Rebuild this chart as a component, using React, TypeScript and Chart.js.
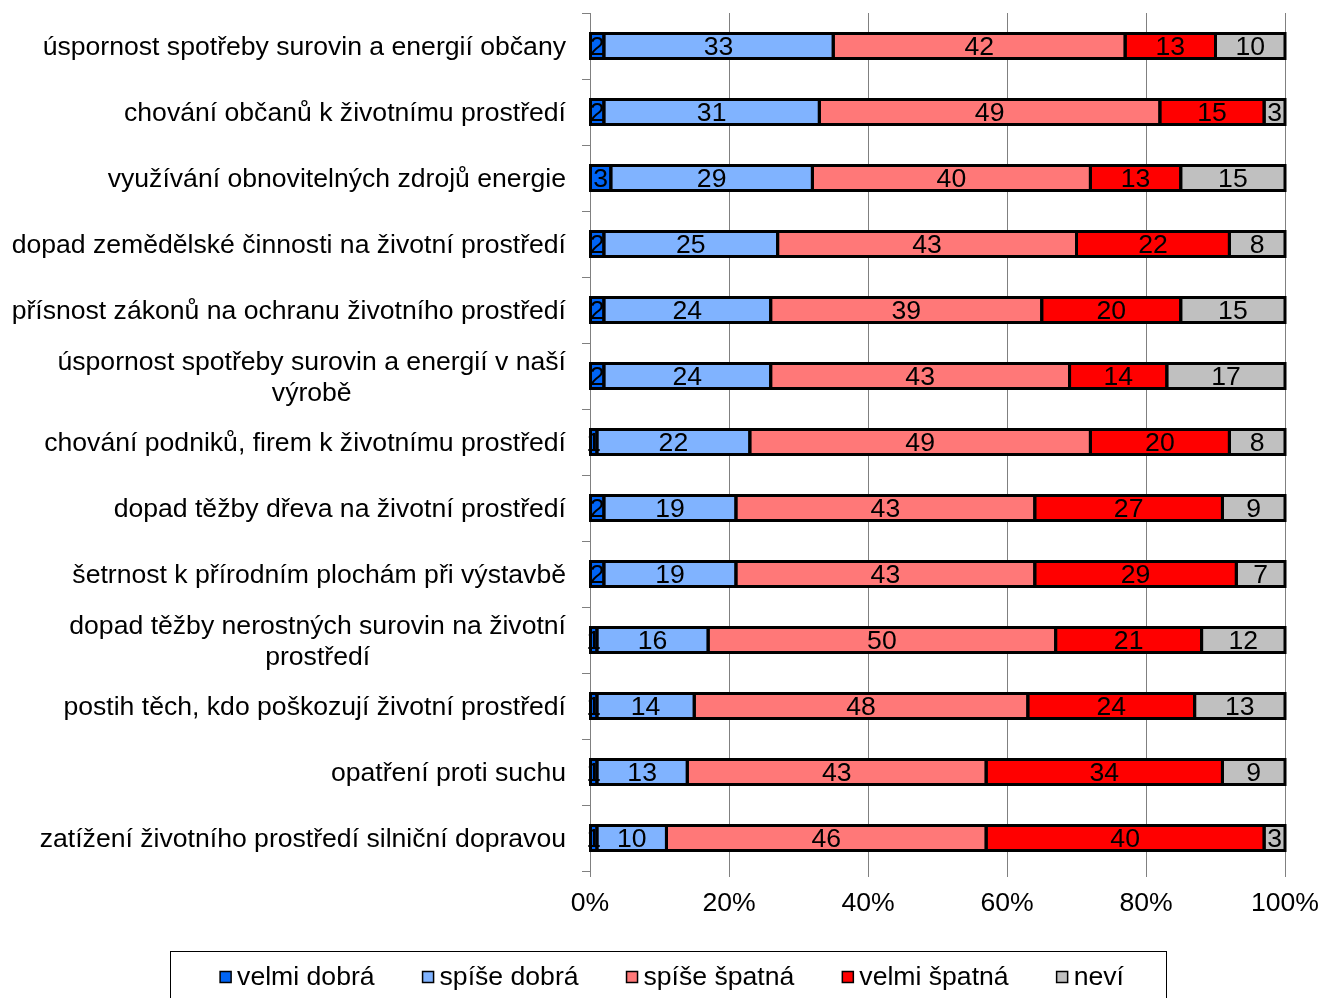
import { useEffect, useRef } from "react";
import { Chart, registerables } from "chart.js";
Chart.register(...registerables);

const categories: (string | string[])[] = [
  "úspornost spotřeby surovin a energií občany",
  "chování občanů k životnímu prostředí",
  "využívání obnovitelných zdrojů energie",
  "dopad zemědělské činnosti na životní prostředí",
  "přísnost zákonů na ochranu životního prostředí",
  ["úspornost spotřeby surovin a energií v naší", "výrobě"],
  "chování podniků, firem k životnímu prostředí",
  "dopad těžby dřeva na životní prostředí",
  "šetrnost k přírodním plochám při výstavbě",
  ["dopad těžby nerostných surovin na životní", "prostředí"],
  "postih těch, kdo poškozují životní prostředí",
  "opatření proti suchu",
  "zatížení životního prostředí silniční dopravou",
];
const velmiDobra = [2, 2, 3, 2, 2, 2, 1, 2, 2, 1, 1, 1, 1];
const spiseDobra = [33, 31, 29, 25, 24, 24, 22, 19, 19, 16, 14, 13, 10];
const spiseSpatna = [42, 49, 40, 43, 39, 43, 49, 43, 43, 50, 48, 43, 46];
const velmiSpatna = [13, 15, 13, 22, 20, 14, 20, 27, 29, 21, 24, 34, 40];
const nevi = [10, 3, 15, 8, 15, 17, 8, 9, 7, 12, 13, 9, 3];
const seriesNames = ["velmi dobrá", "spíše dobrá", "spíše špatná", "velmi špatná", "neví"];
const seriesColors = ["#0064F5", "#80B3FF", "#FF7878", "#FF0000", "#C0C0C0"];
const seriesValues = [velmiDobra, spiseDobra, spiseSpatna, velmiSpatna, nevi];

const FONT = "Liberation Sans, Arial, sans-serif";
const FS = 26.6;

const overlayPlugin = {
  id: "overlay",
  afterDatasetsDraw(chart: any) {
    const ctx = chart.ctx;
    ctx.save();
    ctx.strokeStyle = "#000";
    ctx.lineWidth = 3;
    chart.data.datasets.forEach((_ds: any, di: number) => {
      const meta = chart.getDatasetMeta(di);
      meta.data.forEach((el: any) => {
        const { x, y, base, height } = el.getProps(["x", "y", "base", "height"], true);
        const l = Math.min(x, base);
        const r = Math.max(x, base);
        ctx.strokeRect(l, y - height / 2, r - l, height);
      });
    });
    ctx.fillStyle = "#000";
    ctx.font = `${FS}px ${FONT}`;
    ctx.textAlign = "center";
    ctx.textBaseline = "middle";
    chart.data.datasets.forEach((ds: any, di: number) => {
      const meta = chart.getDatasetMeta(di);
      meta.data.forEach((el: any, i: number) => {
        const { x, y, base } = el.getProps(["x", "y", "base"], true);
        ctx.fillText(String(ds.data[i]), (x + base) / 2, y + 2);
      });
    });
    ctx.restore();
  },
  afterDraw(chart: any) {
    const ctx = chart.ctx;
    const yScale = chart.scales.y;
    ctx.save();
    ctx.font = `${FS}px ${FONT}`;
    ctx.fillStyle = "#000";
    ctx.textBaseline = "middle";
    ctx.textAlign = "center";
    const xRight = chart.chartArea.left - 24;
    const lh = 31;
    categories.forEach((c, i) => {
      const lines = Array.isArray(c) ? c : [c];
      const widest = Math.max(...lines.map((l) => ctx.measureText(l).width));
      const cy = yScale.getPixelForValue(i);
      const y0 = cy - ((lines.length - 1) * lh) / 2;
      lines.forEach((l, k) => ctx.fillText(l, xRight - widest / 2, y0 + k * lh + 2));
    });
    // legend
    const bx = 170.5, by = 951.5, bw = 996, bh = 60;
    ctx.strokeStyle = "#000";
    ctx.lineWidth = 1;
    ctx.strokeRect(bx, by, bw, bh);
    const box = 11, gapBoxText = 6, gap = 48;
    const widths = seriesNames.map((n) => ctx.measureText(n).width);
    const total = widths.reduce((a, w) => a + box + gapBoxText + w, 0) + gap * (seriesNames.length - 1);
    let x = 672 - total / 2;
    const ly = 977;
    ctx.textAlign = "left";
    seriesNames.forEach((n, i) => {
      ctx.fillStyle = seriesColors[i];
      ctx.fillRect(x, ly - box / 2, box, box);
      ctx.strokeStyle = "#000";
      ctx.lineWidth = 1.5;
      ctx.strokeRect(x, ly - box / 2, box, box);
      ctx.fillStyle = "#000";
      ctx.fillText(n, x + box + gapBoxText, ly + 1);
      x += box + gapBoxText + widths[i] + gap;
    });
    ctx.restore();
  },
};

export default function App() {
  const ref = useRef<HTMLCanvasElement>(null);
  useEffect(() => {
    document.body.style.margin = "0";
    const chart = new Chart(ref.current!, {
      type: "bar",
      data: {
        labels: categories.map((c) => (Array.isArray(c) ? c.join(" ") : c)),
        datasets: seriesNames.map((name, i) => ({
          label: name,
          data: seriesValues[i],
          backgroundColor: seriesColors[i],
          borderWidth: 0,
          barThickness: 25,
        })),
      },
      options: {
        indexAxis: "y",
        responsive: false,
        animation: false,
        layout: { padding: { left: 0, right: 37, top: 13, bottom: 82 } },
        plugins: { legend: { display: false }, tooltip: { enabled: false } },
        scales: {
          x: {
            type: "linear",
            stacked: true,
            min: 0,
            max: 100,
            ticks: {
              stepSize: 20,
              callback: (v: any) => v + "%",
              color: "#000",
              font: { family: FONT, size: FS },
              padding: 11,
            },
            grid: { color: "#808080", lineWidth: 1, drawTicks: true, tickLength: 6 },
            border: { display: false },
            afterFit: (s: any) => {
              s.height = 45;
              s.paddingLeft = 0;
              s.paddingRight = 0;
            },
          },
          y: {
            type: "category",
            stacked: true,
            ticks: { display: false },
            grid: { drawOnChartArea: false, drawTicks: true, tickLength: 8, color: "#808080", offset: true },
            border: { color: "#808080", width: 1 },
            afterFit: (s: any) => {
              s.width = 590;
              s.paddingTop = 0;
              s.paddingBottom = 0;
            },
          },
        },
      },
      plugins: [overlayPlugin],
    });
    return () => chart.destroy();
  }, []);
  return <canvas ref={ref} width={1322} height={998} style={{ display: "block" }} />;
}
